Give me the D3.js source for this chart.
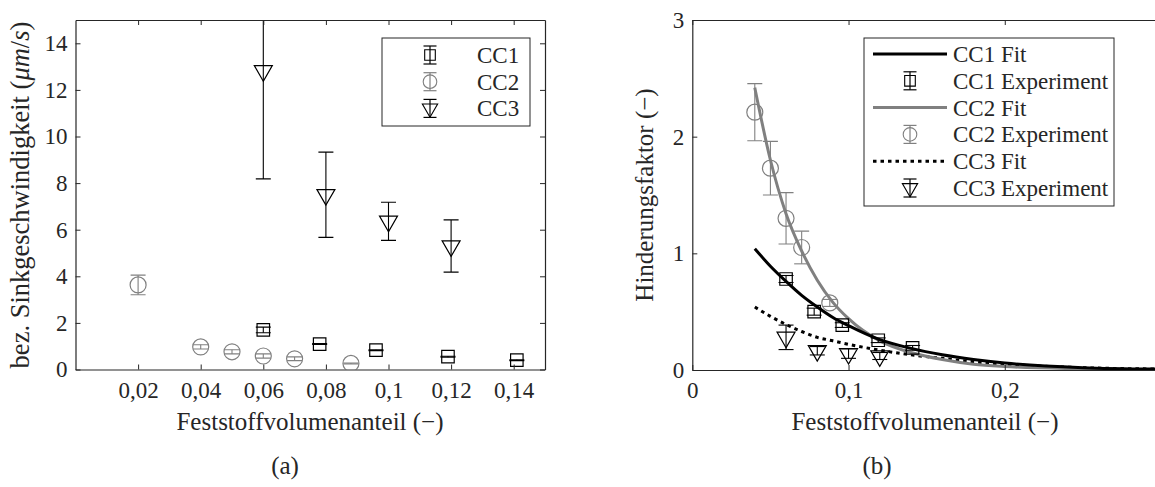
<!DOCTYPE html>
<html>
<head>
<meta charset="utf-8">
<style>
  body { margin: 0; background: #fff; }
</style>
<script src="https://cdn.jsdelivr.net/npm/d3@7"></script>
</head>
<body>
<svg id="fig" width="1155" height="487"></svg>
<script>
// (a) bez. Sinkgeschwindigkeit, experiment points with error bars
var sinkX1 = [0.06, 0.078, 0.096, 0.119, 0.141];
var sinkY1 = [1.70, 1.09, 0.83, 0.55, 0.40];
var sinkE1 = [0.12, 0.02, 0.02, 0.02, 0.02];
var sinkX2 = [0.02, 0.04, 0.05, 0.06, 0.07, 0.088];
var sinkY2 = [3.63, 0.97, 0.76, 0.58, 0.46, 0.26];
var sinkE2 = [0.42, 0.09, 0.09, 0.09, 0.08, 0.02];
var sinkX3 = [0.06, 0.08, 0.1, 0.12];
var sinkY3 = [12.82, 7.50, 6.36, 5.30];
var sinkE3 = [4.64, 1.83, 0.82, 1.12];

// (b) Hinderungsfaktor, experiment points
var hindX1 = [0.06, 0.078, 0.096, 0.119, 0.141];
var hindY1 = [0.78, 0.50, 0.385, 0.255, 0.19];
var hindE1 = [0.03, 0.03, 0.02, 0.02, 0.02];
var hindX2 = [0.04, 0.05, 0.06, 0.07, 0.088];
var hindY2 = [2.21, 1.73, 1.30, 1.05, 0.575];
var hindE2 = [0.245, 0.23, 0.22, 0.14, 0.03];
var hindX3 = [0.06, 0.08, 0.1, 0.12];
var hindY3 = [0.28, 0.165, 0.14, 0.12];
var hindE3 = [0.105, 0.036, 0.04, 0.03];

var fitX   = [0.04, 0.05, 0.06, 0.07, 0.08, 0.09, 0.1, 0.12, 0.14, 0.16, 0.18, 0.2, 0.25, 0.3];
var fitCC1 = [1.04, 0.89, 0.76, 0.64, 0.54, 0.45, 0.38, 0.26, 0.185, 0.13, 0.09, 0.06, 0.02, 0.007];
var fitCC2 = [2.42, 1.80, 1.34, 1.02, 0.77, 0.58, 0.44, 0.25, 0.15, 0.09, 0.05, 0.03, 0.01, 0.003];
var fitCC3 = [0.54, 0.46, 0.39, 0.33, 0.28, 0.25, 0.22, 0.17, 0.13, 0.10, 0.07, 0.05, 0.02, 0.008];

var ticksA = [0.02, 0.04, 0.06, 0.08, 0.1, 0.12, 0.14];
var ticksAy = [0, 2, 4, 6, 8, 10, 12, 14];
var ticksB = [0, 0.1, 0.2];
var ticksBy = [0, 1, 2, 3];

var dark = "#262626", grey = "#808080";
var serifFont = "'Liberation Serif', 'Times New Roman', serif";
var svg = d3.select("#fig").style("font-family", serifFont);
var comma = function (d) { return String(d).replace(".", ","); };

function drawBox(g, x, y, xt, yt) {
    var r = x.range(), h = y.range();
    var style = function (a) {
        a.attr("font-family", null).attr("font-size", null);
        a.select(".domain").attr("stroke", dark).attr("stroke-width", 1.2);
        a.selectAll(".tick line").attr("stroke", dark).attr("stroke-width", 1);
        a.selectAll("text").attr("fill", dark).style("font-size", "23px").style("font-family", serifFont);
    };
    g.append("g").attr("transform", "translate(0," + h[0] + ")")
        .call(d3.axisBottom(x).tickValues(xt).tickFormat(comma).tickSizeInner(-5).tickSizeOuter(0).tickPadding(12))
        .call(style);
    g.append("g").attr("transform", "translate(0," + h[1] + ")")
        .call(d3.axisTop(x).tickValues(xt).tickFormat("").tickSizeInner(-5).tickSizeOuter(0))
        .call(style);
    g.append("g").attr("transform", "translate(" + r[0] + ",0)")
        .call(d3.axisLeft(y).tickValues(yt).tickFormat(comma).tickSizeInner(-5).tickSizeOuter(0).tickPadding(8))
        .call(style);
    g.append("g").attr("transform", "translate(" + r[1] + ",0)")
        .call(d3.axisRight(y).tickValues(yt).tickFormat("").tickSizeInner(-5).tickSizeOuter(0))
        .call(style);
}

var sq = d3.symbol().type(d3.symbolSquare).size(156);
var ci = d3.symbol().type(d3.symbolCircle).size(201);
var tri = d3.symbol().type(d3.symbolTriangle).size(140);

function errSeries(g, x, y, xs, ys, es, sym, color, rot) {
    var pts = xs.map(function (d, i) { return { x: d, y: ys[i], e: es[i] }; });
    var bars = g.append("g").attr("stroke", color).attr("stroke-width", 1.1).attr("fill", "none");
    pts.forEach(function (p) {
        var cx = x(p.x), y0 = y(p.y - p.e), y1 = y(p.y + p.e);
        bars.append("line").attr("x1", cx).attr("x2", cx).attr("y1", y0).attr("y2", y1);
        bars.append("line").attr("x1", cx - 7.5).attr("x2", cx + 7.5).attr("y1", y0).attr("y2", y0);
        bars.append("line").attr("x1", cx - 7.5).attr("x2", cx + 7.5).attr("y1", y1).attr("y2", y1);
    });
    g.append("g").selectAll("path").data(pts).enter().append("path")
        .attr("d", sym)
        .attr("transform", function (d) { return "translate(" + x(d.x) + "," + y(d.y) + ")" + (rot ? " rotate(180)" : ""); })
        .attr("fill", "none").attr("stroke", color).attr("stroke-width", 1.2);
}

function legendIcon(g, cx, cy, sym, color, rot) {
    var ic = g.append("g").attr("stroke", color).attr("fill", "none").attr("stroke-width", 1.2);
    ic.append("line").attr("x1", cx).attr("x2", cx).attr("y1", cy - 9).attr("y2", cy + 9);
    ic.append("line").attr("x1", cx - 6.5).attr("x2", cx + 6.5).attr("y1", cy - 9).attr("y2", cy - 9);
    ic.append("line").attr("x1", cx - 6.5).attr("x2", cx + 6.5).attr("y1", cy + 9).attr("y2", cy + 9);
    ic.append("path").attr("d", sym).attr("stroke-width", 1.3)
        .attr("transform", "translate(" + cx + "," + cy + ")" + (rot ? " rotate(180)" : "") + " scale(0.85)");
}

// ---------- (a) ----------
var xA = d3.scaleLinear().domain([0, 0.15]).range([75.5, 545]);
var yA = d3.scaleLinear().domain([0, 15]).range([369.5, 20]);
var gA = svg.append("g");
svg.append("clipPath").attr("id", "clipA").append("rect")
    .attr("x", 75.5).attr("y", 20).attr("width", 469.5).attr("height", 349.5);
var plotA = gA.append("g").attr("clip-path", "url(#clipA)");
errSeries(plotA, xA, yA, sinkX2, sinkY2, sinkE2, ci, grey, false);
errSeries(plotA, xA, yA, sinkX1, sinkY1, sinkE1, sq, "#000", false);
errSeries(plotA, xA, yA, sinkX3, sinkY3, sinkE3, tri, "#000", true);
drawBox(gA, xA, yA, ticksA, ticksAy);

gA.append("text").attr("x", 310).attr("y", 430).attr("text-anchor", "middle")
    .attr("font-size", 25).attr("fill", dark).text("Feststoffvolumenanteil (\u2212)");
var ylA = gA.append("text").attr("transform", "translate(29,195) rotate(-90)")
    .attr("text-anchor", "middle").attr("font-size", 26.5).attr("fill", dark);
ylA.append("tspan").text("bez.  Sinkgeschwindigkeit (");
ylA.append("tspan").attr("font-style", "italic").text("\u03bcm");
ylA.append("tspan").text("/");
ylA.append("tspan").attr("font-style", "italic").text("s");
ylA.append("tspan").text(")");
gA.append("text").attr("x", 285).attr("y", 474).attr("text-anchor", "middle")
    .attr("font-size", 25).attr("fill", dark).text("(a)");

// legend (a)
var legA = gA.append("g");
legA.append("rect").attr("x", 382).attr("y", 38).attr("width", 148).attr("height", 88)
    .attr("fill", "#fff").attr("stroke", dark).attr("stroke-width", 1);
var legAItems = [["CC1", sq, "#000", false], ["CC2", ci, grey, false], ["CC3", tri, "#000", true]];
legAItems.forEach(function (d, i) {
    var cy = 55 + i * 26.7;
    legendIcon(legA, 430, cy, d[1], d[2], d[3]);
    legA.append("text").attr("x", 477).attr("y", cy).attr("dy", "0.35em")
        .attr("font-size", 23).attr("fill", dark).text(d[0]);
});

// ---------- (b) ----------
var xB = d3.scaleLinear().domain([0, 0.3]).range([692.3, 1161]);
var yB = d3.scaleLinear().domain([0, 3]).range([370, 20]);
var gB = svg.append("g");
svg.append("clipPath").attr("id", "clipB").append("rect")
    .attr("x", 692.3).attr("y", 20).attr("width", 468.7).attr("height", 350);
var plotB = gB.append("g").attr("clip-path", "url(#clipB)");

var line = function (vals) {
    return d3.line().curve(d3.curveMonotoneX)
        .x(function (d, i) { return xB(fitX[i]); })
        .y(function (d) { return yB(d); })(vals);
};
errSeries(plotB, xB, yB, hindX3, hindY3, hindE3, tri, "#000", true);
plotB.append("path").attr("d", line(fitCC3)).attr("fill", "none").attr("stroke", "#000")
    .attr("stroke-width", 3).attr("stroke-dasharray", "3.5 4");
errSeries(plotB, xB, yB, hindX2, hindY2, hindE2, ci, grey, false);
plotB.append("path").attr("d", line(fitCC2)).attr("fill", "none").attr("stroke", grey).attr("stroke-width", 3);
errSeries(plotB, xB, yB, hindX1, hindY1, hindE1, sq, "#000", false);
plotB.append("path").attr("d", line(fitCC1)).attr("fill", "none").attr("stroke", "#000").attr("stroke-width", 3);
drawBox(gB, xB, yB, ticksB, ticksBy);

gB.append("text").attr("x", 925).attr("y", 430).attr("text-anchor", "middle")
    .attr("font-size", 25).attr("fill", dark).text("Feststoffvolumenanteil (\u2212)");
gB.append("text").attr("transform", "translate(653,195) rotate(-90)")
    .attr("text-anchor", "middle").attr("font-size", 25).attr("fill", dark).text("Hinderungsfaktor (\u2212)");
gB.append("text").attr("x", 877).attr("y", 474).attr("text-anchor", "middle")
    .attr("font-size", 25).attr("fill", dark).text("(b)");

// legend (b)
var legB = gB.append("g");
legB.append("rect").attr("x", 864).attr("y", 38).attr("width", 250).attr("height", 168)
    .attr("fill", "#fff").attr("stroke", dark).attr("stroke-width", 1);
var legBItems = [
    ["CC1 Fit", "line", "#000", null],
    ["CC1 Experiment", sq, "#000", false],
    ["CC2 Fit", "line", grey, null],
    ["CC2 Experiment", ci, grey, false],
    ["CC3 Fit", "dot", "#000", null],
    ["CC3 Experiment", tri, "#000", true]
];
legBItems.forEach(function (d, i) {
    var cy = 54 + i * 26.8;
    if (d[1] === "line" || d[1] === "dot") {
        legB.append("line").attr("x1", 873).attr("x2", 947).attr("y1", cy).attr("y2", cy)
            .attr("stroke", d[2]).attr("stroke-width", 3)
            .attr("stroke-dasharray", d[1] === "dot" ? "3.5 4" : null);
    } else {
        legendIcon(legB, 910, cy, d[1], d[2], d[3]);
    }
    legB.append("text").attr("x", 953).attr("y", cy).attr("dy", "0.35em")
        .attr("font-size", 23).attr("fill", dark).text(d[0]);
});
</script>
</body>
</html>
